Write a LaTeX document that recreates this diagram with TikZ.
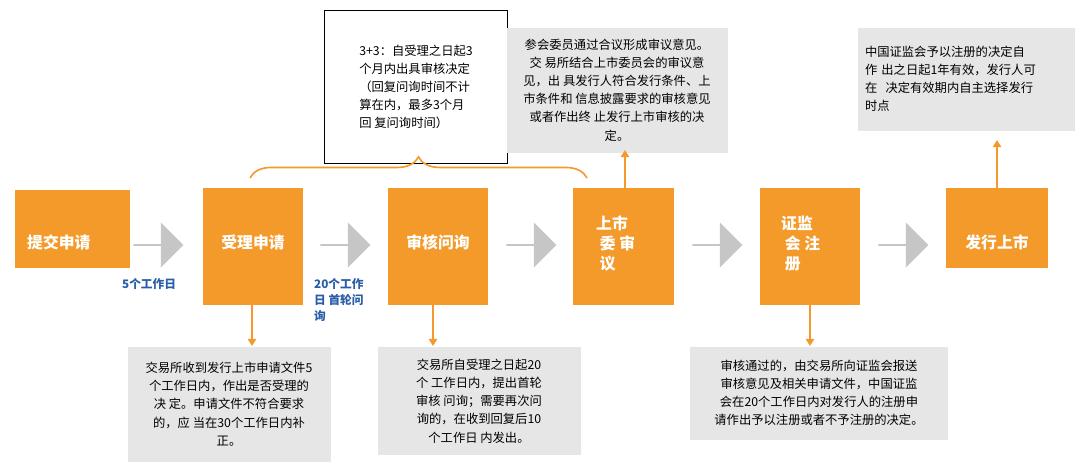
\documentclass[tikz,border=0pt]{standalone}
\usepackage{fontspec}
\setmainfont{Noto Sans CJK SC}
\usetikzlibrary{decorations.pathreplacing,arrows.meta,shapes.arrows}
\definecolor{stepor}{HTML}{F39A2B}
\definecolor{notegray}{HTML}{E6E6E6}
\definecolor{daysblue}{HTML}{2A5DA8}
\tikzset{
  stepbox/.style={fill=stepor, text=white, font=\bfseries\fontsize{13.5}{17}\selectfont, inner sep=0pt},
  notebox/.style={fill=notegray, align=center, font=\fontsize{10.5}{15.5}\selectfont, inner sep=0pt},
  flowarrow/.style={single arrow, fill=gray!45, minimum height=1.5cm, minimum width=1.35cm, single arrow head extend=0.2cm, inner sep=0pt, draw=none},
  uparrow/.style={stepor, line width=1.6pt, -{Triangle[length=6pt,width=7pt]}},
  daystext/.style={text=daysblue, font=\bfseries\fontsize{10}{14}\selectfont, align=left}
}
\begin{document}
\begin{tikzpicture}[x=0.03cm, y=-0.03cm]
\useasboundingbox (0,0) rectangle (1080,471);

% steps
\fill[stepor] (15,190) rectangle (130,268);
\node[stepbox, anchor=west] (s1) at (27,242) {提交申请};
\fill[stepor] (203,188) rectangle (303,305);
\node[stepbox] (s2) at (253,242) {受理申请};
\fill[stepor] (388,188) rectangle (488,305);
\node[stepbox] (s3) at (438,242) {审核问询};
\fill[stepor] (573,188) rectangle (674,305);
\node[stepbox, align=left, anchor=north west] (s4) at (596,216) {上市\\ \ 委\ 审\\ \ 议};
\fill[stepor] (760,188) rectangle (860,305);
\node[stepbox, align=left, anchor=north west] (s5) at (781,216) {证监\\ \ 会\ 注\\ \ 册};
\fill[stepor] (946,188) rectangle (1048,268);
\node[stepbox] (s6) at (997,242) {发行上市};

% flow arrows
\foreach \x in {158,345,531,717,903}
  \node[flowarrow] at (\x,245) {};

% day labels
\node[daystext, anchor=west] (d1) at (118,284) {5个工作日};
\node[daystext, anchor=north west] (d2) at (310,274) {20个工作\\日 首轮问\\询};

% top notes
\node[draw=black, fill=white, minimum width=183*0.03cm, minimum height=153*0.03cm,
  align=left, font=\fontsize{10.5}{15.5}\selectfont, inner sep=0pt] (t1) at (416,87)
  {3+3：自受理之日起3\\个月内出具审核决定\\（回复问询时间不计\\算在内，最多3个月\\回 复问询时间）};
\draw[stepor, line width=1.4pt, decorate, decoration={brace, amplitude=18pt}]
  (250,178) -- (587,178);
\node[notebox, minimum width=221*0.03cm, minimum height=125*0.03cm] (t2) at (617,90)
  {参会委员通过合议形成审议意见。\\交 易所结合上市委员会的审议意\\见，出 具发行人符合发行条件、上\\市条件和 信息披露要求的审核意见\\或者作出终 止发行上市审核的决\\定。};
\node[notebox, align=left, minimum width=217*0.03cm, minimum height=103*0.03cm,
  text width=202*0.03cm] (t3) at (966,79)
  {中国证监会予以注册的决定自\\作\ 出之日起1年有效，发行人可\\在\ \ 决定有效期内自主选择发行\\时点};
\draw[uparrow] (625,188) -- (625,150);
\draw[uparrow] (997,188) -- (997,140);

% bottom notes
\node[notebox, minimum width=203*0.03cm, minimum height=115*0.03cm] (b1) at (229,404)
  {交易所收到发行上市申请文件5\\个工作日内，作出是否受理的\\决 定。申请文件不符合要求\\的，应 当在30个工作日内补\\正。};
\node[notebox, minimum width=203*0.03cm, minimum height=108*0.03cm] (b2) at (479,401)
  {交易所自受理之日起20\\个 工作日内，提出首轮\\审核 问询；需要再次问\\询的，在收到回复后10\\个工作日 内发出。};
\node[notebox, minimum width=258*0.03cm, minimum height=93*0.03cm] (b3) at (819,393)
  {审核通过的，由交易所向证监会报送\\审核意见及相关申请文件，中国证监\\会在20个工作日内对发行人的注册申\\请作出予以注册或者不予注册的决定。};
\draw[uparrow] (252,305) -- (252,346);
\draw[uparrow] (433,305) -- (433,346);
\draw[uparrow] (810,305) -- (810,346);
\end{tikzpicture}
\end{document}
